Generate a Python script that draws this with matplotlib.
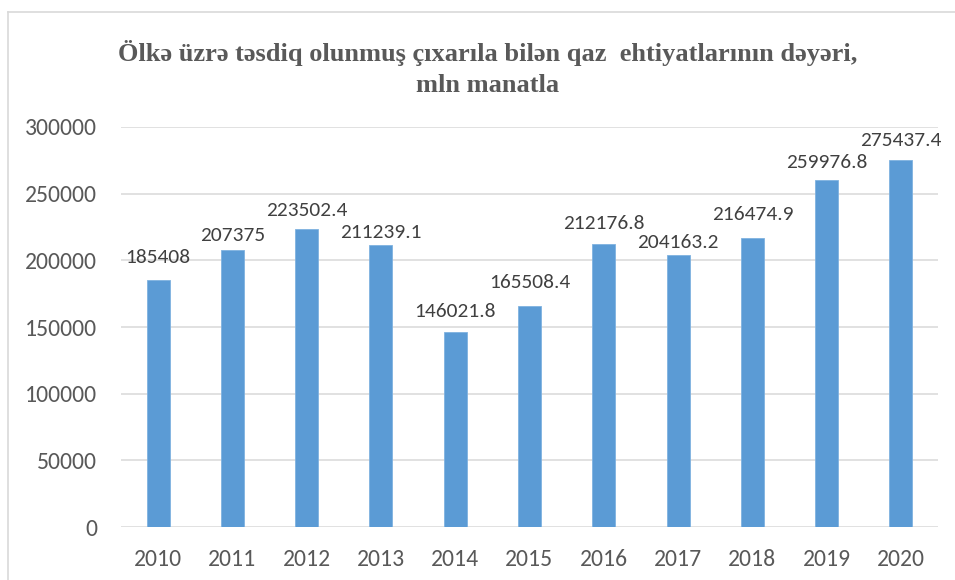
import matplotlib
matplotlib.use("Agg")
import matplotlib.pyplot as plt
from matplotlib.lines import Line2D

years = ["2010", "2011", "2012", "2013", "2014", "2015", "2016", "2017", "2018", "2019", "2020"]
values = [185408, 207375, 223502.4, 211239.1, 146021.8, 165508.4, 212176.8, 204163.2, 216474.9, 259976.8, 275437.4]
value_labels = ["185408", "207375", "223502.4", "211239.1", "146021.8", "165508.4",
                "212176.8", "204163.2", "216474.9", "259976.8", "275437.4"]
yticks = [0, 50000, 100000, 150000, 200000, 250000, 300000]
title_line1 = "Ölkə üzrə təsdiq olunmuş çıxarıla bilən qaz  ehtiyatlarının dəyəri,"
title_line2 = "mln manatla"

# label gaps above bar tops (pixels), as placed in the original
label_gap_px = [17, 9, 13, 7, 15, 18, 15, 7, 18, 12, 14]

W, H = 955, 580
fig = plt.figure(figsize=(W / 100, H / 100), dpi=100)
ax = fig.add_axes([121 / W, 1 - 527 / H, (938 - 121) / W, (527 - 127) / H])

x = list(range(len(years)))
ax.bar(x, values, width=0.31, color="#5B9BD5", edgecolor="#7FB2E0", linewidth=0.6, zorder=3)

ax.set_xlim(-0.5, len(years) - 0.5)
ax.set_ylim(0, 300000)
ax.set_yticks(yticks)
ax.set_yticklabels([str(t) for t in yticks])
ax.set_xticks(x)
ax.set_xticklabels(years)

for s in ax.spines.values():
    s.set_visible(False)
ax.grid(axis="y", color="#D9D9D9", linewidth=1.1, zorder=0)
ax.set_axisbelow(True)
ax.tick_params(axis="both", length=0, labelsize=17, labelcolor="#595959")
ax.tick_params(axis="y", pad=17)
ax.tick_params(axis="x", pad=16)
for lab in ax.get_xticklabels() + ax.get_yticklabels():
    lab.set_family(["Carlito"])

for xi, v, lab, gap in zip(x, values, value_labels, label_gap_px):
    ax.annotate(lab, xy=(xi, v), xytext=(0, gap * 0.72), textcoords="offset points",
                ha="center", va="baseline", fontsize=15.4, color="#404040",
                family=["Carlito"])

fig.text(488 / W, 1 - 53 / H, title_line1, ha="center", va="center", fontsize=19,
         fontweight="bold", color="#595959", family=["Liberation Serif"])
fig.text(488 / W, 1 - 86 / H, title_line2, ha="center", va="center", fontsize=19,
         fontweight="bold", color="#595959", family=["Liberation Serif"])

# chart area border (partially visible)
fig.add_artist(Line2D([8 / W, 8 / W], [0, 1 - 12 / H], transform=fig.transFigure,
                      color="#D9D9D9", linewidth=1.2))
fig.add_artist(Line2D([8 / W, 1], [1 - 12 / H, 1 - 12 / H], transform=fig.transFigure,
                      color="#D9D9D9", linewidth=1.2))

fig.savefig("out.png", dpi=100)
